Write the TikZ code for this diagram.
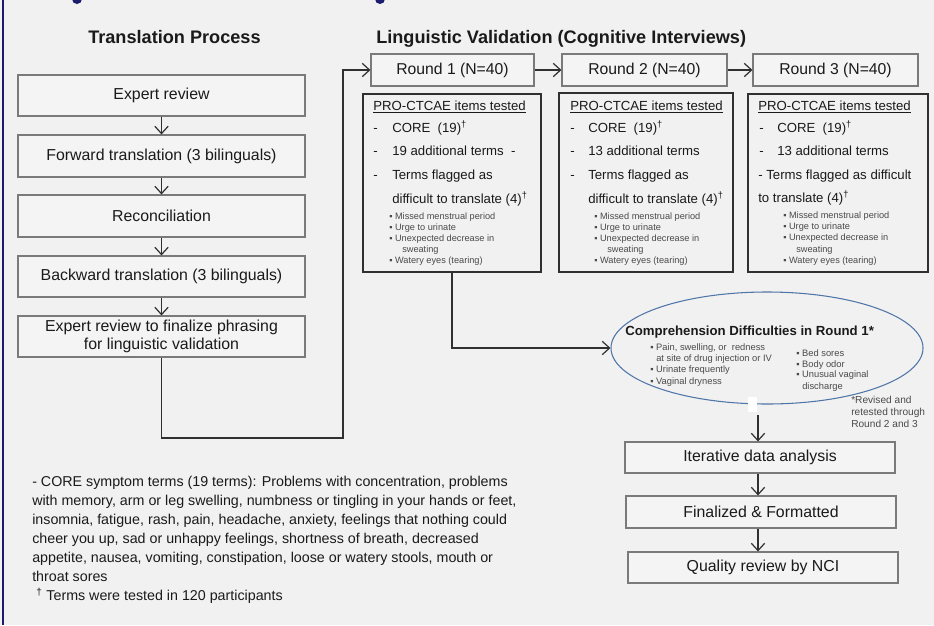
\documentclass[tikz,border=0pt]{standalone}
\usepackage{fontspec}
\setmainfont{Liberation Sans}
\usetikzlibrary{arrows.meta,fit,shapes.geometric}
\definecolor{bg}{HTML}{F1F1F1}
\definecolor{navy}{HTML}{1C1C6E}
\definecolor{boxline}{HTML}{7A7A7A}
\definecolor{dark}{HTML}{303030}
\definecolor{txt}{HTML}{1A1A1A}
\definecolor{smalltxt}{HTML}{4A4A4A}
\definecolor{ellblue}{HTML}{4F76A8}
\definecolor{boxfill}{HTML}{F4F4F4}
\newcommand{\myfs}[1]{\fontsize{#1}{#1}\selectfont}
\newcommand{\dg}{\textsuperscript{†}}
\tikzset{
  box/.style={draw=boxline, line width=0.8pt, fill=boxfill, inner sep=0pt},
  btext/.style={inner sep=0pt, text=txt, font=\myfs{11.9}, align=center},
  ibox/.style={draw=dark, line width=1.1pt, inner sep=0pt},
  conn/.style={draw=dark, line width=0.9pt, -{Straight Barb[length=5.5pt,width=10pt]}},
  itxt/.style={anchor=mid west, inner sep=0pt, text=txt, font=\myfs{9.9}},
  smtxt/.style={anchor=mid west, inner sep=0pt, text=smalltxt, font=\myfs{6.9}},
  etxt/.style={anchor=mid west, inner sep=0pt, text=smalltxt, font=\myfs{7}},
  head/.style={anchor=mid west, inner sep=0pt, text=txt, font=\myfs{13.6}\bfseries},
  btxt/.style={anchor=mid west, inner sep=0pt, text=txt, font=\myfs{10.7}},
}
\begin{document}
\begin{tikzpicture}[x=0.75pt,y=-0.75pt]
\useasboundingbox (0,0) rectangle (934,625);
\fill[bg] (0,0) rectangle (934,625);
\draw[navy, line width=1.5pt] (3,0) -- (3,625);
\fill[navy] (77,-1) circle (3.75pt);
\fill[navy] (380,-1) circle (3.75pt);

% headings
\node[head] (h1) at (88,40) {Translation Process};
\node[head] (h2) at (376,40) {Linguistic Validation (Cognitive Interviews)};

% translation boxes
\node[box, fit={(18,75)(305,116)}] (b1) {};
\node[btext] (b1t) at (b1.center) {Expert review};
\node[box, fit={(18,135)(305,177)}] (b2) {};
\node[btext] (b2t) at (b2.center) {Forward translation (3 bilinguals)};
\node[box, fit={(18,195)(305,237)}] (b3) {};
\node[btext] (b3t) at (b3.center) {Reconciliation};
\node[box, fit={(18,256)(305,297)}] (b4) {};
\node[btext] (b4t) at (b4.center) {Backward translation (3 bilinguals)};
\node[box, fit={(18,316)(305,357)}] (b5) {};
\node[btext, font=\fontsize{11.9}{13.5}\selectfont] (b5t) at (b5.center) {Expert review to finalize phrasing\\ for linguistic validation};
\draw[conn] (b1) -- (b2);
\draw[conn] (b2) -- (b3);
\draw[conn] (b3) -- (b4);
\draw[conn] (b4) -- (b5);

% round boxes
\node[box, fit={(371,54)(534,86)}] (r1) {};
\node[btext, font=\myfs{11.8}] (r1t) at (r1.center) {Round 1 (N=40)};
\node[box, fit={(562,54)(727,86)}] (r2) {};
\node[btext, font=\myfs{11.8}] (r2t) at (r2.center) {Round 2 (N=40)};
\node[box, fit={(753,54)(918,86)}] (r3) {};
\node[btext, font=\myfs{11.8}] (r3t) at (r3.center) {Round 3 (N=40)};
\coordinate (c1) at (343,438);
\draw[conn] (b5.south) |- (c1) |- (r1.west);
\draw[conn] (r1) -- (r2);
\draw[conn] (r2) -- (r3);

% item boxes
\node[ibox, fit={(363,94)(541,272)}] (i1) {};
\node[ibox, fit={(559,93)(733,272)}] (i2) {};
\node[ibox, fit={(748,94)(928,272)}] (i3) {};

% round 1 items
\node[itxt] (a1) at (373,107) {\underline{PRO-CTCAE items tested}};
\node[itxt] (a2d) at (373,129) {-};
\node[itxt] (a2) at (392,129) {CORE\ \ (19)\dg};
\node[itxt] (a3d) at (373,152) {-};
\node[itxt] (a3) at (392,152) {19 additional terms\ \ -};
\node[itxt] (a4d) at (373,176) {-};
\node[itxt] (a4) at (392,176) {Terms flagged as};
\node[itxt] (a5) at (392,200) {difficult to translate (4)\dg};
\node[smtxt] (a6) at (389,216) {▪ Missed menstrual period};
\node[smtxt] (a7) at (389,227) {▪ Urge to urinate};
\node[smtxt] (a8) at (389,238) {▪ Unexpected decrease in};
\node[smtxt] (a9) at (402,249) {sweating};
\node[smtxt] (a10) at (389,260) {▪ Watery eyes (tearing)};

% round 2 items
\node[itxt] (e1) at (570,107) {\underline{PRO-CTCAE items tested}};
\node[itxt] (e2d) at (570,129) {-};
\node[itxt] (e2) at (588,129) {CORE\ \ (19)\dg};
\node[itxt] (e3d) at (570,152) {-};
\node[itxt] (e3) at (588,152) {13 additional terms};
\node[itxt] (e4d) at (570,176) {-};
\node[itxt] (e4) at (588,176) {Terms flagged as};
\node[itxt] (e5) at (588,200) {difficult to translate (4)\dg};
\node[smtxt] (e6) at (594,216) {▪ Missed menstrual period};
\node[smtxt] (e7) at (594,227) {▪ Urge to urinate};
\node[smtxt] (e8) at (594,238) {▪ Unexpected decrease in};
\node[smtxt] (e9) at (607,249) {sweating};
\node[smtxt] (e10) at (594,260) {▪ Watery eyes (tearing)};

% round 3 items
\node[itxt] (g1) at (758,107) {\underline{PRO-CTCAE items tested}};
\node[itxt] (g2d) at (759,129) {-};
\node[itxt] (g2) at (777,129) {CORE\ \ (19)\dg};
\node[itxt] (g3d) at (759,152) {-};
\node[itxt] (g3) at (777,152) {13 additional terms};
\node[itxt] (g4) at (758,176) {- Terms flagged as difficult};
\node[itxt] (g5) at (758,199) {to translate (4)\dg};
\node[smtxt] (g6) at (783,215) {▪ Missed menstrual period};
\node[smtxt] (g7) at (783,226) {▪ Urge to urinate};
\node[smtxt] (g8) at (783,237) {▪ Unexpected decrease in};
\node[smtxt] (g9) at (796,249) {sweating};
\node[smtxt] (g10) at (783,260) {▪ Watery eyes (tearing)};

% ellipse
\node[draw=ellblue, line width=0.8pt, ellipse, minimum width=234pt, minimum height=84pt, inner sep=0pt] (ell) at (767,348) {};
\coordinate (c2) at (452,0);
\draw[conn] (i1.south -| c2) |- (ell.west);
\node[anchor=mid west, inner sep=0pt, text=txt, font=\myfs{9.9}\bfseries] (et) at (625,332) {Comprehension Difficulties in Round 1*};
\node[etxt] (el1) at (650,347) {▪ Pain, swelling, or\ \ redness};
\node[etxt] (el2) at (656,358) {at site of drug injection or IV};
\node[etxt] (el3) at (650,369) {▪ Urinate frequently};
\node[etxt] (el4) at (650,381) {▪ Vaginal dryness};
\node[etxt] (er1) at (796,353) {▪ Bed sores};
\node[etxt] (er2) at (796,364) {▪ Body odor};
\node[etxt] (er3) at (796,374) {▪ Unusual vaginal};
\node[etxt] (er4) at (802,386) {discharge};

% note
\node[anchor=mid west, inner sep=0pt, text=smalltxt, font=\myfs{7.6}] (n1) at (851,400) {*Revised and};
\node[anchor=mid west, inner sep=0pt, text=smalltxt, font=\myfs{7.6}] (n2) at (851,412) {retested through};
\node[anchor=mid west, inner sep=0pt, text=smalltxt, font=\myfs{7.6}] (n3) at (851,424) {Round 2 and 3};

% white patch
\fill[white] (748,397) rectangle (757,412);

% final boxes
\node[box, fit={(625,442)(895,473)}] (it) {};
\node[btext] (itt) at (it.center) {Iterative data analysis};
\node[box, fit={(626,496)(896,528)}] (fin) {};
\node[btext] (fint) at (fin.center) {Finalized \& Formatted};
\node[box, fit={(628,552)(898,583)}] (q) {};
\node[btext] (qt) at (q.center) {Quality review by NCI};
\coordinate (c3) at (758,415);
\draw[conn] (c3) -- (it.north -| c3);
\draw[conn] (it.south -| c3) -- (fin.north -| c3);
\draw[conn] (fin.south -| c3) -- (q.north -| c3);

% bottom text
\node[btxt] (t1) at (32,483) {- CORE symptom terms (19 terms): Problems with concentration, problems};
\node[btxt] (t2) at (32,502) {with memory, arm or leg swelling, numbness or tingling in your hands or feet,};
\node[btxt] (t3) at (32,521) {insomnia, fatigue, rash, pain, headache, anxiety, feelings that nothing could};
\node[btxt] (t4) at (32,540) {cheer you up, sad or unhappy feelings, shortness of breath, decreased};
\node[btxt] (t5) at (32,559) {appetite, nausea, vomiting, constipation, loose or watery stools, mouth or};
\node[btxt] (t6) at (32,578) {throat sores};
\node[btxt] (t7) at (36,597) {\textsuperscript{†} Terms were tested in 120 participants};
\end{tikzpicture}
\end{document}
